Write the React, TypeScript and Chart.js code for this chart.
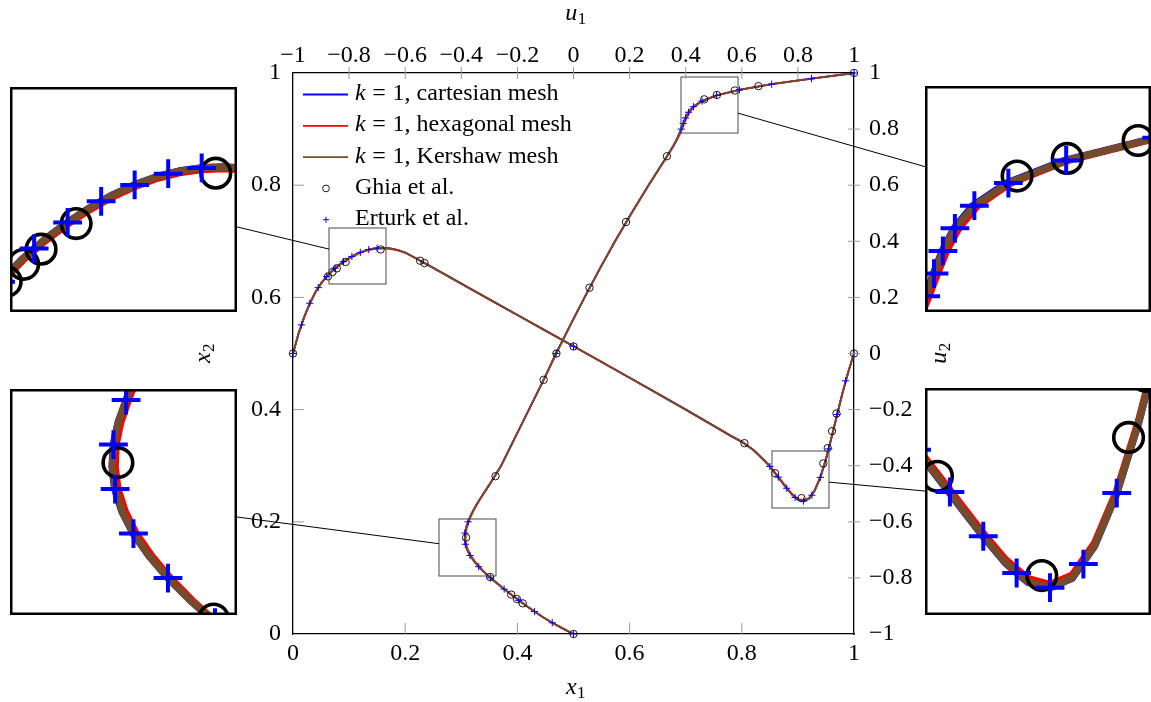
import React, { useEffect, useRef } from "react";
import { Chart, registerables } from "chart.js";

Chart.register(...registerables);

// ---------------- data ----------------
// u1 along the vertical centre line (position x2)
const X2_POS = [0, 0.01, 0.02, 0.03, 0.04, 0.05, 0.06, 0.07, 0.08, 0.09, 0.10, 0.11, 0.12, 0.13, 0.14, 0.15, 0.16, 0.17, 0.18, 0.19, 0.20, 0.21, 0.22, 0.23, 0.24, 0.25, 0.27, 0.30, 0.35, 0.40, 0.45, 0.50, 0.55, 0.60, 0.65, 0.70, 0.75, 0.80, 0.85, 0.87, 0.88, 0.89, 0.90, 0.91, 0.92, 0.93, 0.94, 0.95, 0.96, 0.97, 0.98, 0.99, 1.00];
const U1_CARTESIAN = [0, -0.0390, -0.0757, -0.1085, -0.1392, -0.1678, -0.1951, -0.2215, -0.2472, -0.2720, -0.2960, -0.3182, -0.3381, -0.3551, -0.3692, -0.3794, -0.3858, -0.3882, -0.3871, -0.3827, -0.3756, -0.3676, -0.3578, -0.3465, -0.3342, -0.3213, -0.2950, -0.2580, -0.2085, -0.1590, -0.1095, -0.0620, -0.0118, 0.0395, 0.0925, 0.1480, 0.2065, 0.2675, 0.3310, 0.3553, 0.3662, 0.3753, 0.3834, 0.3908, 0.3987, 0.4093, 0.4262, 0.4566, 0.5088, 0.5905, 0.7058, 0.8484, 1.0000];
const U1_HEXAGONAL = [0, -0.0388, -0.0754, -0.1081, -0.1387, -0.1672, -0.1944, -0.2207, -0.2463, -0.2709, -0.2946, -0.3165, -0.3360, -0.3527, -0.3665, -0.3764, -0.3828, -0.3853, -0.3845, -0.3803, -0.3735, -0.3658, -0.3563, -0.3453, -0.3333, -0.3206, -0.2946, -0.2578, -0.2084, -0.1590, -0.1095, -0.0620, -0.0118, 0.0395, 0.0926, 0.1482, 0.2068, 0.2680, 0.3318, 0.3568, 0.3682, 0.3785, 0.3868, 0.3945, 0.4027, 0.4136, 0.4305, 0.4602, 0.5115, 0.5925, 0.7068, 0.8487, 1.0000];
const U1_KERSHAW = [0, -0.0390, -0.0757, -0.1085, -0.1392, -0.1678, -0.1951, -0.2215, -0.2472, -0.2720, -0.2960, -0.3182, -0.3381, -0.3550, -0.3690, -0.3790, -0.3854, -0.3879, -0.3869, -0.3826, -0.3756, -0.3676, -0.3578, -0.3465, -0.3342, -0.3213, -0.2950, -0.2580, -0.2085, -0.1590, -0.1095, -0.0620, -0.0118, 0.0395, 0.0925, 0.1480, 0.2065, 0.2675, 0.3310, 0.3555, 0.3665, 0.3757, 0.3838, 0.3913, 0.3993, 0.4101, 0.4276, 0.4582, 0.5102, 0.5917, 0.7065, 0.8486, 1.0000];

// u2 along the horizontal centre line (position x1)
const X1_POS = [0, 0.01, 0.02, 0.03, 0.04, 0.05, 0.06, 0.07, 0.08, 0.09, 0.10, 0.11, 0.12, 0.13, 0.14, 0.15, 0.16, 0.17, 0.18, 0.19, 0.20, 0.22, 0.24, 0.27, 0.30, 0.35, 0.40, 0.45, 0.50, 0.55, 0.60, 0.65, 0.70, 0.75, 0.78, 0.80, 0.82, 0.83, 0.84, 0.85, 0.86, 0.87, 0.88, 0.89, 0.90, 0.91, 0.92, 0.93, 0.94, 0.95, 0.96, 0.97, 0.98, 0.99, 1.00];
const U2_CARTESIAN = [0, 0.0721, 0.1306, 0.1793, 0.2191, 0.2502, 0.2748, 0.2954, 0.3127, 0.3275, 0.3404, 0.3516, 0.3607, 0.3680, 0.3730, 0.3758, 0.3766, 0.3754, 0.3722, 0.3670, 0.3601, 0.3386, 0.3166, 0.2830, 0.2490, 0.1930, 0.1375, 0.0815, 0.0258, -0.0300, -0.0865, -0.1430, -0.2000, -0.2580, -0.2936, -0.3152, -0.3432, -0.3623, -0.3823, -0.4032, -0.4290, -0.4550, -0.4808, -0.5045, -0.5214, -0.5266, -0.5178, -0.4893, -0.4420, -0.3778, -0.2993, -0.2175, -0.1371, -0.0645, 0];
const U2_HEXAGONAL = [0, 0.0716, 0.1298, 0.1783, 0.2179, 0.2487, 0.2732, 0.2938, 0.3110, 0.3258, 0.3387, 0.3499, 0.3590, 0.3663, 0.3713, 0.3741, 0.3749, 0.3737, 0.3706, 0.3655, 0.3589, 0.3377, 0.3160, 0.2827, 0.2489, 0.1930, 0.1375, 0.0816, 0.0259, -0.0298, -0.0862, -0.1426, -0.1995, -0.2573, -0.2926, -0.3140, -0.3418, -0.3606, -0.3803, -0.4005, -0.4260, -0.4518, -0.4776, -0.5012, -0.5182, -0.5235, -0.5150, -0.4865, -0.4395, -0.3755, -0.2975, -0.2162, -0.1364, -0.0642, 0];
const U2_KERSHAW = [0, 0.0720, 0.1305, 0.1792, 0.2190, 0.2500, 0.2746, 0.2952, 0.3125, 0.3273, 0.3402, 0.3514, 0.3605, 0.3678, 0.3728, 0.3756, 0.3764, 0.3752, 0.3720, 0.3668, 0.3600, 0.3385, 0.3165, 0.2830, 0.2490, 0.1930, 0.1375, 0.0815, 0.0258, -0.0300, -0.0865, -0.1430, -0.2000, -0.2580, -0.2935, -0.3150, -0.3430, -0.3620, -0.3820, -0.4028, -0.4285, -0.4545, -0.4803, -0.5040, -0.5210, -0.5263, -0.5175, -0.4890, -0.4417, -0.3775, -0.2990, -0.2173, -0.1370, -0.0645, 0];

// reference data
const GHIA_X2 = [0, 0.0547, 0.0625, 0.0703, 0.1016, 0.1719, 0.2813, 0.4531, 0.5, 0.6172, 0.7344, 0.8516, 0.9531, 0.9609, 0.9688, 0.9766, 1];
const GHIA_U1 = [0, -0.18109, -0.20196, -0.2222, -0.2973, -0.38289, -0.27805, -0.10648, -0.0608, 0.05702, 0.18719, 0.33304, 0.46604, 0.51117, 0.57492, 0.65928, 1];
const GHIA_X1 = [0, 0.0625, 0.0703, 0.0781, 0.0938, 0.1563, 0.2266, 0.2344, 0.5, 0.8047, 0.8594, 0.9063, 0.9453, 0.9531, 0.9609, 0.9688, 1];
const GHIA_U2 = [0, 0.27485, 0.29012, 0.30353, 0.32627, 0.37095, 0.33075, 0.32235, 0.02526, -0.31966, -0.42665, -0.5155, -0.39188, -0.33714, -0.27669, -0.21388, 0];
const ERTURK_X2 = [0, 0.02, 0.04, 0.06, 0.08, 0.10, 0.12, 0.14, 0.16, 0.18, 0.20, 0.50, 0.90, 0.91, 0.92, 0.93, 0.94, 0.95, 0.96, 0.97, 0.98, 0.99, 1];
const ERTURK_U1 = [0, -0.0757, -0.1392, -0.1951, -0.2472, -0.2960, -0.3381, -0.3690, -0.3854, -0.3869, -0.3756, -0.0620, 0.3838, 0.3913, 0.3993, 0.4101, 0.4276, 0.4582, 0.5102, 0.5917, 0.7065, 0.8486, 1];
const ERTURK_X1 = [0, 0.015, 0.03, 0.045, 0.06, 0.075, 0.09, 0.105, 0.12, 0.135, 0.15, 0.5, 0.85, 0.865, 0.88, 0.895, 0.91, 0.925, 0.94, 0.955, 0.97, 0.985, 1];
const ERTURK_U2 = [0, 0.1019, 0.1792, 0.2349, 0.2746, 0.3041, 0.3273, 0.3460, 0.3605, 0.3705, 0.3756, 0.0258, -0.4028, -0.4407, -0.4803, -0.5132, -0.5263, -0.5052, -0.4417, -0.3400, -0.2173, -0.0973, 0];

// ticks
const X1_TICKS = [0, 0.2, 0.4, 0.6, 0.8, 1];
const X2_TICKS = [0, 0.2, 0.4, 0.6, 0.8, 1];
const U1_TICKS = [-1, -0.8, -0.6, -0.4, -0.2, 0, 0.2, 0.4, 0.6, 0.8, 1];
const U2_TICKS = [-1, -0.8, -0.6, -0.4, -0.2, 0, 0.2, 0.4, 0.6, 0.8, 1];

// labels
const SERIES_LABELS = ["cartesian mesh", "hexagonal mesh", "Kershaw mesh"];
const REF_LABELS = ["Ghia et al.", "Erturk et al."];

// magnified regions (data ranges)
const ZOOM_KIND = ["v", "u", "u", "v"];
const ZOOM_X_RANGE = [[0.0642, 0.1658], [0.3832, 0.5865], [-0.4795, -0.2763], [0.8538, 0.9554]];
const ZOOM_Y_RANGE = [[0.2478, 0.4474], [0.893, 0.9929], [0.1034, 0.205], [-0.5508, -0.3476]];

// ---------------- layout / style ----------------
const W = 1151;
const H = 702;
const AXIS_SIZES = { left: 293, right: 297, top: 73, bottom: 68 };
const INSET_BOXES = [
  { left: 10, top: 87, width: 227, height: 225 },
  { left: 925, top: 86, width: 226, height: 226 },
  { left: 10, top: 389, width: 227, height: 226 },
  { left: 925, top: 388, width: 226, height: 227 },
];
const FONT = "'Liberation Serif', 'Times New Roman', serif";
const BLUE = "#0000ff";
const RED = "#ff0000";
const BROWN = "#754c29";
const LINE_COLORS = [BLUE, RED, BROWN];

const fmt = (v: number) => {
  const r = Math.round(v * 10) / 10;
  if (r === 0) return "0";
  const a = Math.abs(r);
  const s = a === 1 ? "1" : a.toFixed(1);
  return (r < 0 ? "\u2212" : "") + s;
};

const toPairs = (xs: number[], ys: number[]) => xs.map((x, i) => ({ x, y: ys[i] }));

function buildDatasets(kind: "u" | "v", s: number, main: boolean) {
  const lines =
    kind === "u"
      ? [U1_CARTESIAN, U1_HEXAGONAL, U1_KERSHAW].map((a) => toPairs(a, X2_POS))
      : [U2_CARTESIAN, U2_HEXAGONAL, U2_KERSHAW].map((a) => toPairs(X1_POS, a));
  const ghia = kind === "u" ? toPairs(GHIA_U1, GHIA_X2) : toPairs(GHIA_X1, GHIA_U2);
  const ert = kind === "u" ? toPairs(ERTURK_U1, ERTURK_X2) : toPairs(ERTURK_X1, ERTURK_U2);
  const axes: any = main
    ? kind === "u"
      ? { xAxisID: "xTop", yAxisID: "y" }
      : { xAxisID: "x", yAxisID: "yRight" }
    : { xAxisID: "x", yAxisID: "y" };
  const ds: any[] = lines.map((data, i) => ({
    label: SERIES_LABELS[i],
    data,
    ...axes,
    borderColor: LINE_COLORS[i],
    backgroundColor: LINE_COLORS[i],
    borderWidth: 1.8 * s,
    pointRadius: 0,
    pointHoverRadius: 0,
    showLine: true,
    tension: 0,
    borderJoinStyle: "round",
    borderCapStyle: "round",
    order: 4 - i,
  }));
  ds.push({
    label: REF_LABELS[0],
    data: ghia,
    ...axes,
    showLine: false,
    pointStyle: "circle",
    pointRadius: 3.7 * s,
    pointHoverRadius: 3.7 * s,
    pointBorderWidth: 0.9 * s,
    borderColor: "#000",
    pointBorderColor: "#000",
    backgroundColor: "rgba(0,0,0,0)",
    pointBackgroundColor: "rgba(0,0,0,0)",
    order: 1,
    clip: main ? false : undefined,
  });
  ds.push({
    label: REF_LABELS[1],
    data: ert,
    ...axes,
    showLine: false,
    pointStyle: "cross",
    pointRadius: 3.6 * s,
    pointHoverRadius: 3.6 * s,
    pointBorderWidth: 1.0 * s,
    borderColor: BLUE,
    pointBorderColor: BLUE,
    backgroundColor: BLUE,
    order: 0,
    clip: main ? false : undefined,
  });
  return ds;
}

function drawSubLabel(ctx: CanvasRenderingContext2D, base: string, sub: string, x: number, y: number, rot: number) {
  ctx.save();
  ctx.translate(x, y);
  ctx.rotate(rot);
  ctx.fillStyle = "#000";
  ctx.textAlign = "left";
  ctx.textBaseline = "alphabetic";
  ctx.font = `italic 24px ${FONT}`;
  const w1 = ctx.measureText(base).width;
  ctx.font = `17px ${FONT}`;
  const w2 = ctx.measureText(sub).width;
  const sx = -(w1 + w2) / 2;
  ctx.font = `italic 24px ${FONT}`;
  ctx.fillText(base, sx, 5);
  ctx.font = `17px ${FONT}`;
  ctx.fillText(sub, sx + w1 + 0.5, 9);
  ctx.restore();
}

function exitT(cx: number, cy: number, dx: number, dy: number, r: { l: number; t: number; r: number; b: number }) {
  let t = Infinity;
  if (dx > 0) t = Math.min(t, (r.r - cx) / dx);
  else if (dx < 0) t = Math.min(t, (r.l - cx) / dx);
  if (dy > 0) t = Math.min(t, (r.b - cy) / dy);
  else if (dy < 0) t = Math.min(t, (r.t - cy) / dy);
  return t;
}

const mainDecor = {
  id: "mainDecor",
  afterDatasetsDraw(chart: any) {
    const { ctx, scales } = chart;
    ctx.save();
    ZOOM_KIND.forEach((kind, i) => {
      const xs = kind === "u" ? scales.xTop : scales.x;
      const ys = kind === "u" ? scales.y : scales.yRight;
      const L = xs.getPixelForValue(ZOOM_X_RANGE[i][0]);
      const R = xs.getPixelForValue(ZOOM_X_RANGE[i][1]);
      const T = ys.getPixelForValue(ZOOM_Y_RANGE[i][1]);
      const B = ys.getPixelForValue(ZOOM_Y_RANGE[i][0]);
      ctx.strokeStyle = "#4a4a4a";
      ctx.lineWidth = 1;
      ctx.strokeRect(L, T, R - L, B - T);
      const ins = INSET_BOXES[i];
      const p0x = (L + R) / 2, p0y = (T + B) / 2;
      const p1x = ins.left + ins.width / 2, p1y = ins.top + ins.height / 2;
      const dx = p1x - p0x, dy = p1y - p0y;
      const t0 = exitT(p0x, p0y, dx, dy, { l: L, t: T, r: R, b: B });
      const t1 = exitT(p1x, p1y, -dx, -dy, { l: ins.left, t: ins.top, r: ins.left + ins.width, b: ins.top + ins.height });
      ctx.strokeStyle = "#000";
      ctx.beginPath();
      ctx.moveTo(p0x + t0 * dx, p0y + t0 * dy);
      ctx.lineTo(p1x - t1 * dx, p1y - t1 * dy);
      ctx.stroke();
    });
    ctx.restore();
  },
  afterDraw(chart: any) {
    const { ctx, scales, chartArea } = chart;
    const { left, right, top, bottom } = chartArea;
    ctx.save();
    // tick marks
    ctx.strokeStyle = "#9a9a9a";
    ctx.lineWidth = 1;
    ctx.beginPath();
    X1_TICKS.slice(1, -1).forEach((v) => {
      const p = scales.x.getPixelForValue(v);
      ctx.moveTo(p, bottom);
      ctx.lineTo(p, bottom - 11);
    });
    X2_TICKS.slice(1, -1).forEach((v) => {
      const p = scales.y.getPixelForValue(v);
      ctx.moveTo(left, p);
      ctx.lineTo(left + 11, p);
    });
    U1_TICKS.slice(1, -1).forEach((v) => {
      const p = scales.xTop.getPixelForValue(v);
      ctx.moveTo(p, top - 6);
      ctx.lineTo(p, top + 6);
    });
    U2_TICKS.slice(1, -1).forEach((v) => {
      const p = scales.yRight.getPixelForValue(v);
      ctx.moveTo(right - 6, p);
      ctx.lineTo(right + 6, p);
    });
    ctx.stroke();

    // legend
    const ds = chart.data.datasets;
    const rowY0 = top + 21.5;
    const rowDY = 31.3;
    ctx.textAlign = "left";
    ctx.textBaseline = "alphabetic";
    ctx.fillStyle = "#000";
    for (let i = 0; i < 5; i++) {
      const y = rowY0 + i * rowDY;
      const d = ds[i];
      const mx = left + 33;
      if (i < 3) {
        ctx.strokeStyle = d.borderColor;
        ctx.lineWidth = 1.8;
        ctx.beginPath();
        ctx.moveTo(left + 10, y);
        ctx.lineTo(left + 55, y);
        ctx.stroke();
      } else if (i === 3) {
        ctx.strokeStyle = d.pointBorderColor;
        ctx.lineWidth = 0.9;
        ctx.beginPath();
        ctx.arc(mx, y, 3.4, 0, Math.PI * 2);
        ctx.stroke();
      } else {
        ctx.strokeStyle = d.pointBorderColor;
        ctx.lineWidth = 1;
        ctx.beginPath();
        ctx.moveTo(mx - 3, y);
        ctx.lineTo(mx + 3, y);
        ctx.moveTo(mx, y - 3);
        ctx.lineTo(mx, y + 3);
        ctx.stroke();
      }
      const base = y + 5.5;
      let x = left + 62;
      ctx.fillStyle = "#000";
      if (i < 3) {
        ctx.font = `italic 24px ${FONT}`;
        ctx.fillText("k", x, base);
        x += ctx.measureText("k").width + 6.7;
        ctx.font = `24px ${FONT}`;
        ctx.fillText("=", x, base);
        x += ctx.measureText("=").width + 6.7;
        ctx.fillText("1, " + d.label, x, base);
      } else {
        ctx.font = `24px ${FONT}`;
        ctx.fillText(d.label, x, base);
      }
    }

    // axis titles
    const cx = (left + right) / 2;
    const cy = (top + bottom) / 2;
    drawSubLabel(ctx, "u", "1", cx + 2, top - 58, 0);
    drawSubLabel(ctx, "x", "1", cx + 2, bottom + 55, 0);
    drawSubLabel(ctx, "x", "2", left - 88, cy, -Math.PI / 2);
    drawSubLabel(ctx, "u", "2", right + 87, cy, -Math.PI / 2);
    ctx.restore();
  },
};

const insetFrame = {
  id: "insetFrame",
  beforeDraw(chart: any) {
    const { ctx, width, height } = chart;
    ctx.save();
    ctx.fillStyle = "#fff";
    ctx.fillRect(0, 0, width, height);
    ctx.restore();
  },
  afterDraw(chart: any) {
    const { ctx, width, height } = chart;
    ctx.save();
    ctx.strokeStyle = "#000";
    ctx.lineWidth = 2.5;
    ctx.strokeRect(1.25, 1.25, width - 2.5, height - 2.5);
    ctx.restore();
  },
};

function axisCommon(min: number, max: number, position: string, ticks: number[], padding: number, fit: (s: any) => void) {
  return {
    type: "linear",
    position,
    min,
    max,
    afterBuildTicks: (s: any) => {
      s.ticks = ticks.map((v) => ({ value: v }));
    },
    afterFit: fit,
    grid: { display: false, drawTicks: false },
    border: { display: true, color: "#000", width: 1.3 },
    ticks: {
      padding,
      color: "#000",
      font: { family: FONT, size: 24 },
      maxRotation: 0,
      autoSkip: false,
      callback: (v: any) => fmt(Number(v)),
    },
  };
}

export default function App() {
  const mainRef = useRef<HTMLCanvasElement>(null);
  const r0 = useRef<HTMLCanvasElement>(null);
  const r1 = useRef<HTMLCanvasElement>(null);
  const r2 = useRef<HTMLCanvasElement>(null);
  const r3 = useRef<HTMLCanvasElement>(null);
  const insetRefs = [r0, r1, r2, r3];

  useEffect(() => {
    const charts: Chart[] = [];
    const uMain = buildDatasets("u", 1, true);
    const vMain = buildDatasets("v", 1, true);
    const main = new Chart(mainRef.current as HTMLCanvasElement, {
      type: "line",
      data: { datasets: [...uMain, ...vMain] },
      options: {
        responsive: false,
        animation: false,
        events: [],
        layout: { padding: 0, autoPadding: false },
        plugins: { legend: { display: false }, tooltip: { enabled: false } },
        scales: {
          x: { axis: "x", ...axisCommon(0, 1, "bottom", X1_TICKS, 5, (s: any) => { s.height = AXIS_SIZES.bottom; }) },
          xTop: { axis: "x", ...axisCommon(-1, 1, "top", U1_TICKS, 3, (s: any) => { s.height = AXIS_SIZES.top; }) },
          y: { axis: "y", ...axisCommon(0, 1, "left", X2_TICKS, 12, (s: any) => { s.width = AXIS_SIZES.left; }) },
          yRight: { axis: "y", ...axisCommon(-1, 1, "right", U2_TICKS, 15, (s: any) => { s.width = AXIS_SIZES.right; }) },
        } as any,
      },
      plugins: [mainDecor],
    } as any);
    charts.push(main);

    insetRefs.forEach((ref, i) => {
      const kind = ZOOM_KIND[i] as "u" | "v";
      const c = new Chart(ref.current as HTMLCanvasElement, {
        type: "line",
        data: { datasets: buildDatasets(kind, 4, false) },
        options: {
          responsive: false,
          animation: false,
          events: [],
          layout: { padding: 0, autoPadding: false },
          plugins: { legend: { display: false }, tooltip: { enabled: false } },
          scales: {
            x: { type: "linear", display: false, min: ZOOM_X_RANGE[i][0], max: ZOOM_X_RANGE[i][1] },
            y: { type: "linear", display: false, min: ZOOM_Y_RANGE[i][0], max: ZOOM_Y_RANGE[i][1] },
          },
        },
        plugins: [insetFrame],
      } as any);
      charts.push(c);
    });

    return () => charts.forEach((c) => c.destroy());
  }, []);

  return (
    <div style={{ position: "fixed", left: 0, top: 0, width: W, height: H, background: "#fff", overflow: "hidden" }}>
      <canvas ref={mainRef} width={W} height={H} style={{ position: "absolute", left: 0, top: 0 }} />
      {INSET_BOXES.map((b, i) => (
        <canvas
          key={i}
          ref={insetRefs[i]}
          width={b.width}
          height={b.height}
          style={{ position: "absolute", left: b.left, top: b.top }}
        />
      ))}
    </div>
  );
}
